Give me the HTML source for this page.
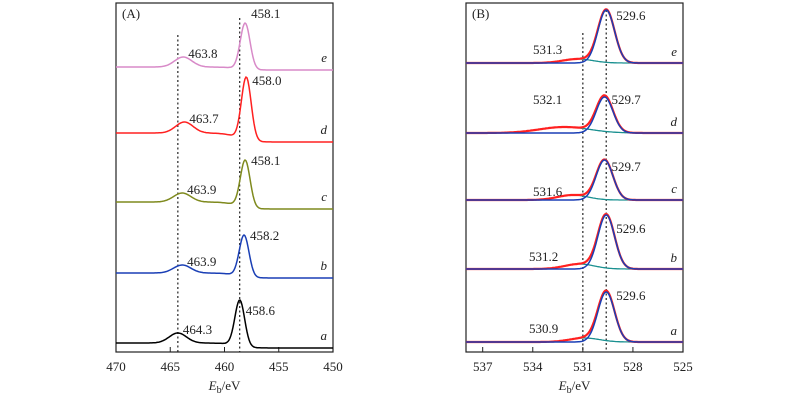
<!DOCTYPE html>
<html><head><meta charset="utf-8"><style>
html,body{margin:0;padding:0;background:#fff;width:800px;height:400px;overflow:hidden}
svg text{font-family:"Liberation Serif",serif;font-size:13px;fill:#222}
</style></head><body>
<svg id="chart" width="800" height="400" viewBox="0 0 800 400" font-family="Liberation Serif, serif"></svg>
<script>
// Panel A (Ti 2p)
const samples = ['a','b','c','d','e'];
const aColors = ['#000000','#1a3fb5','#7f8a1e','#ff2020','#d88ac8'];
const aMainPos = [458.6,458.2,458.1,458.0,458.1];
const aSatPos = [464.3,463.9,463.9,463.7,463.8];
const aBaseL = [343,273,202,133,67];
const aBaseR = [348,278,209,142,70];
const aPeakY = [300,235,160,77,23];
const aSatY = [333,265,193,122,57];
const aTicks = [470,465,460,455,450];
// Panel B (O 1s)
const bMainPos = [529.6,529.6,529.7,529.7,529.6];
const bShPos = [530.9,531.2,531.6,532.1,531.3];
const bShH = [4,5,5,6,4];
const bBase = [342,269,200,133,63];
const bPeakY = [292,215,160,97,10];
const bTicks = [537,534,531,528,525];

const svg=document.getElementById('chart');
const NS='http://www.w3.org/2000/svg';
function mk(tag,attrs,parent){const e=document.createElementNS(NS,tag);for(const k in attrs)e.setAttribute(k,attrs[k]);(parent||svg).appendChild(e);return e;}
function txt(x,y,s,parent,anchor,italic){const t=mk('text',{x:x,y:y,'text-anchor':anchor||'middle','font-family':'Liberation Serif, serif'},parent);if(italic)t.setAttribute('font-style','italic');t.textContent=s;return t;}
const g=(x,m,s)=>Math.exp(-0.5*((x-m)/s)**2);

const AX0=116,AX1=333,BX0=466,BX1=683,TOP=3,BOT=352;
const xA=v=>AX0+(470-v)/20*(AX1-AX0);
const xB=v=>BX0+(538-v)/13*(BX1-BX0);

function frame(x0,x1,name,ticks,xf,label){
  const fg=mk('g',{},svg);
  
  
  mk('rect',{x:x0,y:TOP,width:x1-x0,height:BOT-TOP,fill:'none',stroke:'#222','stroke-width':1.2},fg);
  ticks.forEach(t=>{const x=xf(t);mk('line',{x1:x,x2:x,y1:BOT,y2:BOT-5,stroke:'#222'},fg);
    const tl=txt(x,BOT+19,String(t),fg);tl.setAttribute('font-size','14');
    });
  const ti=mk('text',{x:(x0+x1)/2,y:BOT+38,'text-anchor':'middle','font-size':'14','font-family':'Liberation Serif, serif'},fg);
  
  ti.innerHTML='<tspan font-style="italic">E</tspan><tspan font-size="10" dy="3">b</tspan><tspan dy="-3">/eV</tspan>';
  const pl=txt(x0+6,TOP+15,label,fg,'start');
}
frame(AX0,AX1,'panel-a-frame',aTicks,xA,'(A)');
frame(BX0,BX1,'panel-b-frame',bTicks,xB,'(B)');

function dotted(x,y0,name){const l=mk('line',{x1:x,x2:x,y1:y0,y2:BOT,stroke:'#222','stroke-width':1.2,'stroke-dasharray':'2,2.5'});
  }
dotted(xA(464.3),35,'ref-line-464');dotted(xA(458.6),18,'ref-line-458');
dotted(xB(531),33,'ref-line-531');dotted(xB(529.6),10,'ref-line-529');

const aMainLblDy=[15,5,5,8,-5];
samples.forEach((s,i)=>{
  let d='';
  for(let px=AX0;px<=AX1;px+=1){
    const v=470-(px-AX0)/(AX1-AX0)*20;
    const sig=1/(1+Math.exp((v-458.8)/0.6));
    const base=aBaseL[i]+(aBaseR[i]-aBaseL[i])*sig;
    const y=base-(base-aPeakY[i])*g(v,aMainPos[i],0.45)-(aBaseL[i]-aSatY[i])*g(v,aSatPos[i],0.8);
    d+=(d?'L':'M')+px+','+y.toFixed(1);
  }
  const p=mk('path',{d:d,fill:'none',stroke:aColors[i],'stroke-width':1.5});
  
  
  const l1=txt(xA(aMainPos[i])+6,aPeakY[i]+aMainLblDy[i],aMainPos[i].toFixed(1),svg,'start');
  
  const l2=txt(xA(aSatPos[i])+5,aSatY[i]+1,aSatPos[i].toFixed(1),svg,'start');
  
  const l3=txt(AX1-6,aBaseR[i]-8,s,svg,'end',true);
  
});

const bMainLblDy=[8,18,11,7,10];
const bShLblY=[333,261,196,104,54];
const bShLblX=[529,529,533,533,533];
samples.forEach((s,i)=>{
  let dr='',db='',dt='';
  const H=bBase[i]-bPeakY[i];
  for(let px=BX0;px<=BX1;px+=1){
    const v=538-(px-BX0)/(BX1-BX0)*13;
    const base=bBase[i];
    const sw=i==3?1.5:0.9;
    const sh=bShH[i]*g(v,bShPos[i],sw);
    const mn=H*g(v,bMainPos[i],0.5);
    dr+=(dr?'L':'M')+px+','+(base-mn-sh).toFixed(1);
    db+=(db?'L':'M')+px+','+(base-mn).toFixed(1);
    dt+=(dt?'L':'M')+px+','+(base-sh).toFixed(1);
  }
  const pt=mk('path',{d:dt,fill:'none',stroke:'#1a9090','stroke-width':1.3});
  
  const pr=mk('path',{d:dr,fill:'none',stroke:'#ff2020','stroke-width':2.2});
  
  const pb=mk('path',{d:db,fill:'none',stroke:'#1a3fb5','stroke-width':1.5});
  
  const l1=txt(xB(bMainPos[i])+(bMainPos[i]>529.65?7:10),bPeakY[i]+bMainLblDy[i],bMainPos[i].toFixed(1),svg,'start');
  
  const l2=txt(bShLblX[i],bShLblY[i],bShPos[i].toFixed(1),svg,'start');
  
  const l3=txt(BX1-6,bBase[i]-7,s,svg,'end',true);
  
});
</script>
</body></html>
